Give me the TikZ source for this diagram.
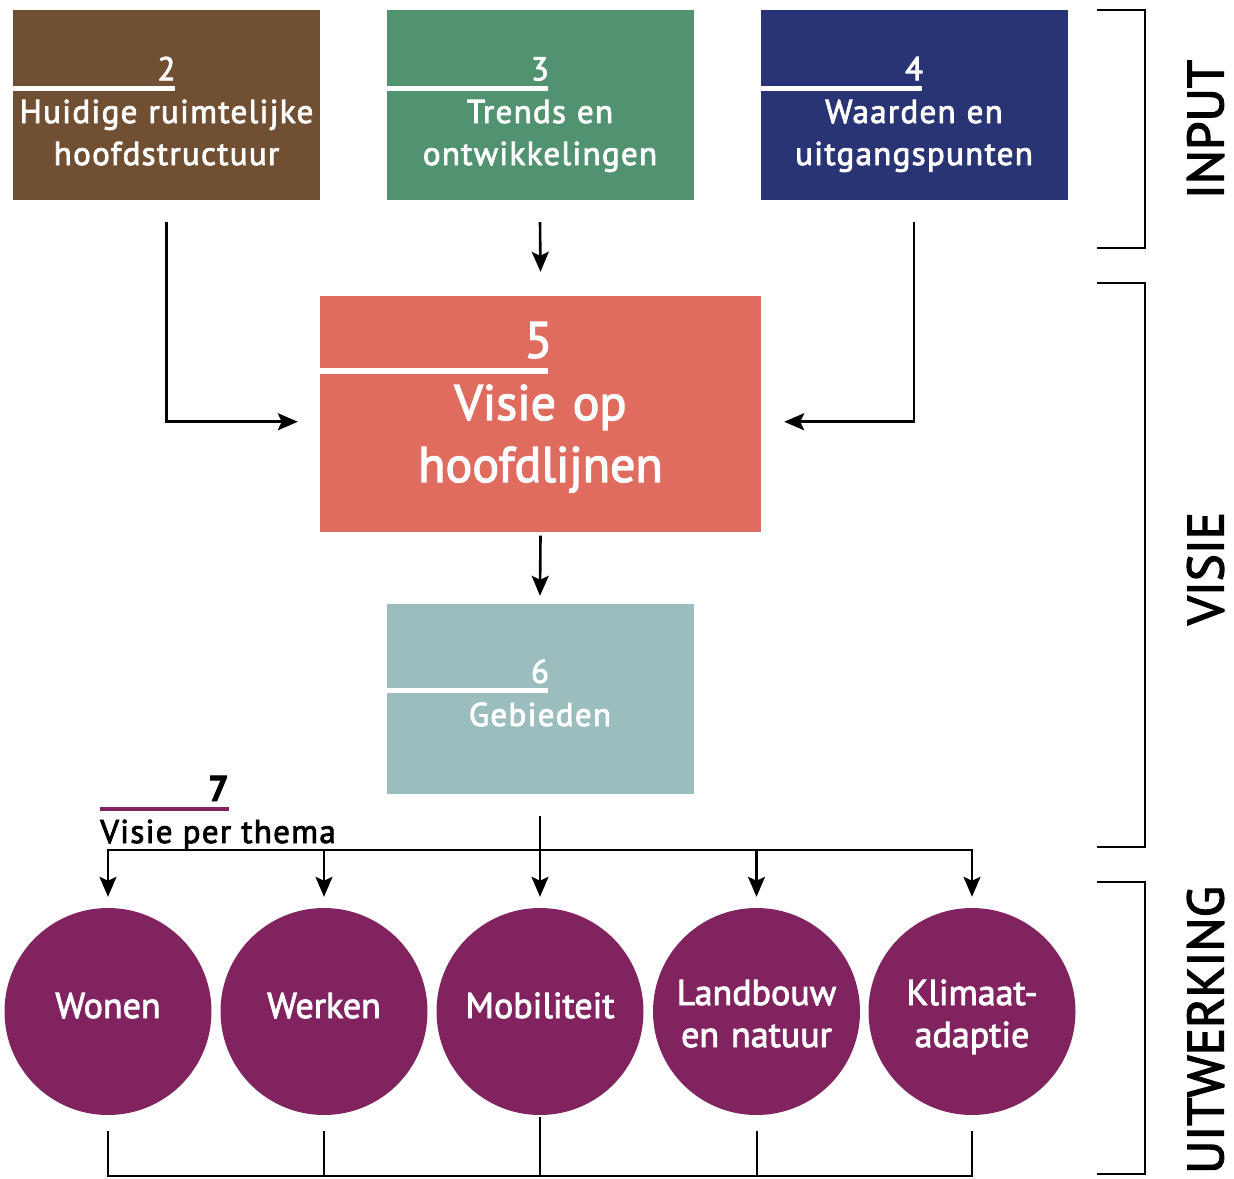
\documentclass[tikz,border=0pt]{standalone}
\usepackage{fontspec}
\setmainfont{PT Sans}[FakeBold=2.5]
\newfontfamily\ruim{PT Sans}[LetterSpace=4, FakeBold=2.5]
\usetikzlibrary{arrows.meta,positioning,calc}

\definecolor{bruin}{HTML}{714F33}
\definecolor{groen}{HTML}{519270}
\definecolor{blauw}{HTML}{293474}
\definecolor{zalm}{HTML}{E06C60}
\definecolor{grijsgroen}{HTML}{9BBDBD}
\definecolor{paars}{HTML}{81235E}

\begin{document}
\begin{tikzpicture}[x=1pt, y=-1pt,
  vak/.style={rectangle, inner sep=0pt, minimum width=307pt, minimum height=190pt},
  nummer/.style={anchor=base, inner sep=0pt, text=white, font=\ruim\fontsize{33}{40}\selectfont},
  titel/.style={anchor=north, inner sep=0pt, text width=300pt, text height=24pt, align=center, text=white, font=\ruim\fontsize{33}{42}\selectfont},
  thema/.style={circle, fill=paars, minimum size=207pt, inner sep=0pt, text width=165pt, text height=26pt, align=center, text=white, font=\fontsize{36}{42}\selectfont},
  een/.style={text depth=13pt},
  twee/.style={text depth=39pt},
  lijn/.style={line width=2.6pt},
  pijl/.style={lijn, -{Stealth[length=20pt, width=17pt, inset=4pt]}},
  haak/.style={line width=2pt},
  fase/.style={rotate=90, inner sep=0pt, font=\fontsize{51}{60}\selectfont}
]
\useasboundingbox (0,0) rectangle (1234,1178);

% Input boxes
\foreach \nm/\kl/\xc/\nr/\tekst in {
    b2/bruin/166.5/2/{Huidige ruimtelijke\\hoofdstructuur},
    b3/groen/540/3/{Trends en\\ontwikkelingen},
    b4/blauw/914/4/{Waarden en\\uitgangspunten}} {
  \node[vak, fill=\kl] (\nm) at (\xc,105) {};
  \draw[white, line width=4.5pt] ($(\nm.north west)+(0,78.5)$) -- ($(\nm.north)+(8,78.5)$);
  \node[nummer] (n\nm) at ($(\nm.north)+(0,70.5)$) {\nr};
  \node[titel] (t\nm) at ($(\nm.north)+(0,89)$) {\tekst};
}

% Visie op hoofdlijnen
\node[vak, fill=zalm, minimum width=441pt, minimum height=235.5pt] (b5) at (540.5,413.75) {};
\draw[white, line width=6.5pt] ($(b5.north west)+(0,75)$) -- ($(b5.north)+(7.5,75)$);
\node[nummer, font=\ruim\fontsize{51}{60}\selectfont] (nb5) at ($(b5.north)+(-2,62)$) {5};
\node[titel, text width=430pt, text height=36pt, font=\fontsize{50}{62}\selectfont] (tb5) at ($(b5.north)+(0,88)$) {Visie op\\hoofdlijnen};

% Gebieden
\node[vak, fill=grijsgroen] (b6) at (540,699) {};
\draw[white, line width=5pt] ($(b6.north west)+(0,86.5)$) -- ($(b6.north)+(8,86.5)$);
\node[nummer] (nb6) at ($(b6.north)+(0,79)$) {6};
\node[titel] (tb6) at ($(b6.north)+(0,98)$) {Gebieden};

% Themas
\foreach \i/\xc/\tekst/\opt in {1/108/Wonen/een, 2/324/Werken/een, 3/540/Mobiliteit/een,
    4/756.5/{Landbouw\\en natuur}/twee, 5/972/{Klimaat-\\adaptie}/twee}
  \node[thema, \opt] (c\i) at (\xc,1011.5) {\tekst};

\node[anchor=base east, inner sep=0pt, font=\fontsize{36}{40}\selectfont\bfseries] (n7) at (229,801) {7};
\draw[paars, line width=4.5pt] ($(n7.base east)+(-129,8)$) -- ($(n7.base east)+(0,8)$);
\node[anchor=base west, inner sep=0pt, font=\ruim\fontsize{33}{40}\selectfont] (t7) at (100,843) {Visie per thema};

% Connectors
\draw[pijl] ([yshift=-22pt]b2.south) |- ($(b5.west)+(-22,8)$);
\draw[pijl] ([yshift=-22pt]b4.south) |- ($(b5.east)+(23,8)$);
\draw[pijl] ([yshift=-22pt]b3.south) -- ([yshift=24pt]b5.north);
\draw[pijl] ([yshift=-4pt]b5.south) -- ([yshift=8pt]b6.north);
\draw[pijl] ([yshift=-22pt]b6.south) -- ([yshift=11pt]c3.north);

\coordinate (bus1) at ([yshift=58pt]c1.north);
\coordinate (bus5) at ([yshift=58pt]c5.north);
\draw[lijn, line cap=rect] (bus1) -- (bus5);
\foreach \i in {1,2,4,5}
  \draw[pijl] ([yshift=58pt]c\i.north) -- ([yshift=11pt]c\i.north);

\draw[line width=2pt] ([yshift=-16pt]c1.south) |- ([yshift=-61pt]c5.south) -- ([yshift=-16pt]c5.south);
\foreach \i in {2,4}
  \draw[line width=2pt] ([yshift=-16pt]c\i.south) -- ++(0,45);
\draw[line width=2pt] ([yshift=-2pt]c3.south) -- ++(0,59);

% Phases
\foreach \a/\b in {10/248, 283/847, 882/1174}
  \draw[haak] (1097,\a) -- (1145,\a) -- (1145,\b) -- (1097,\b);
\node[fase] (input) at (1205.5,129.5) {INPUT};
\node[fase] (visie) at (1205.5,568.5) {VISIE};
\node[fase] (uitwerking) at (1205.5,1030) {UITWERKING};
\end{tikzpicture}
\end{document}
